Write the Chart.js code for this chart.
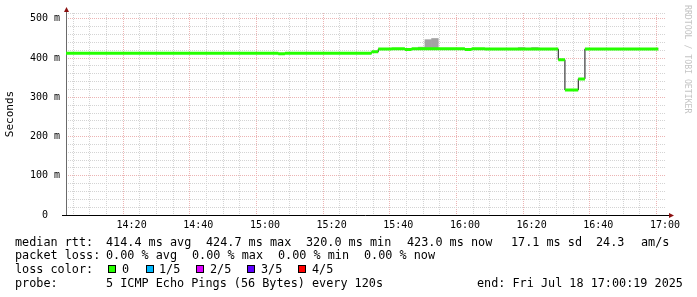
<!DOCTYPE html>
<html>
<head>
<meta charset="utf-8">
<title>smokeping rtt</title>
<script src="https://cdn.jsdelivr.net/npm/chart.js@4/dist/chart.umd.min.js"></script>
<style>
  html, body { margin: 0; padding: 0; background: #fff; }
  #wrap { position: relative; width: 697px; height: 297px; overflow: hidden; }
  #rtt { position: absolute; left: 0; top: 0; }
  .t { position: absolute; font-family: "DejaVu Sans Mono", monospace; font-size: 11.8px; line-height: 14px; color: #000; white-space: pre; }
  .box { position: absolute; width: 6px; height: 6px; border: 1px solid #000; }
  #mark { position: absolute; left: 683px; top: 5px; writing-mode: vertical-rl; font-family: "DejaVu Sans Mono", monospace; font-size: 8.2px; line-height: 10px; color: #c4c4c4; white-space: pre; }
</style>
</head>
<body>
<div id="wrap">
  <canvas id="rtt" width="697" height="297"></canvas>
  <div id="mark">RRDTOOL / TOBI OETIKER</div>

  <div class="t" style="left:15px;top:235px">median rtt:</div>
  <div class="t" style="left:106px;top:235px">414.4 ms avg</div>
  <div class="t" style="left:206px;top:235px">424.7 ms max</div>
  <div class="t" style="left:306px;top:235px">320.0 ms min</div>
  <div class="t" style="left:407px;top:235px">423.0 ms now</div>
  <div class="t" style="left:511px;top:235px">17.1 ms sd</div>
  <div class="t" style="left:596px;top:235px">24.3</div>
  <div class="t" style="left:641px;top:235px">am/s</div>

  <div class="t" style="left:15px;top:248px">packet loss:</div>
  <div class="t" style="left:106px;top:248px">0.00 % avg</div>
  <div class="t" style="left:192px;top:248px">0.00 % max</div>
  <div class="t" style="left:278px;top:248px">0.00 % min</div>
  <div class="t" style="left:364px;top:248px">0.00 % now</div>

  <div class="t" style="left:15px;top:262px">loss color:</div>
  <div class="box" style="left:108px;top:265px;background:#26ff00"></div>
  <div class="t" style="left:122px;top:262px">0</div>
  <div class="box" style="left:146px;top:265px;background:#00b8ff"></div>
  <div class="t" style="left:159px;top:262px">1/5</div>
  <div class="box" style="left:196px;top:265px;background:#dd00ff"></div>
  <div class="t" style="left:210px;top:262px">2/5</div>
  <div class="box" style="left:247px;top:265px;background:#5e00ff"></div>
  <div class="t" style="left:261px;top:262px">3/5</div>
  <div class="box" style="left:298px;top:265px;background:#ff0000"></div>
  <div class="t" style="left:312px;top:262px">4/5</div>

  <div class="t" style="left:15px;top:276px">probe:</div>
  <div class="t" style="left:106px;top:276px">5 ICMP Echo Pings (56 Bytes) every 120s</div>
  <div class="t" style="left:477px;top:276px">end: Fri Jul 18 17:00:19 2025</div>
</div>

<script>
// time is minutes after 14:00, graph runs 14:00:19 .. 17:00:19
const tStart = 0.32;
const tEnd = 180.32;

// median rtt (ms), value holds from stepStart[i] until stepStart[i+1]
const stepStart = [0.32, 64, 66, 92, 94, 98, 102, 104, 120, 122, 126, 148, 150, 154, 156, 178];
const medianMs  = [412.6, 411.4, 412.6, 416, 423, 424, 422, 424, 422, 424, 423, 396, 319, 347, 423.5, 423.5];

// smoke (ping spread) where it shows above the median
const smokeAt   = [107, 109, 111, 137, 141];
const smokeLow  = [424, 424, 424, 423, 423];
const smokeHigh = [428, 447, 450, 427, 427];

const yLabels = ['0  ', '100 m', '200 m', '300 m', '400 m', '500 m'];
const timeLabels = ['14:20', '14:40', '15:00', '15:20', '15:40', '16:00', '16:20', '16:40', '17:00'];

const minorGrid = '#d4d4d4';
const majorGrid = '#ecb4b4';
const lossGreen = '#26ff00';

// green median: flat pieces only, no risers
const greenPts = [];
for (let i = 0; i < stepStart.length - 1; i++) {
  greenPts.push({ x: stepStart[i], y: medianMs[i] });
  greenPts.push({ x: stepStart[i + 1], y: medianMs[i] });
  greenPts.push({ x: stepStart[i + 1], y: null });
}

// axis lines + little red arrows like rrdtool
const axisArrows = {
  id: 'axisArrows',
  beforeDatasetsDraw(chart) {
    const { ctx, chartArea: a } = chart;
    ctx.save();
    ctx.lineWidth = 1;
    ctx.strokeStyle = '#6a6a6a';
    ctx.beginPath();
    ctx.moveTo(a.left + 0.5, a.bottom);
    ctx.lineTo(a.left + 0.5, a.top - 1);
    ctx.stroke();
    ctx.strokeStyle = '#000';
    ctx.beginPath();
    ctx.moveTo(a.left - 4, a.bottom + 0.5);
    ctx.lineTo(a.right + 3, a.bottom + 0.5);
    ctx.stroke();
    ctx.fillStyle = '#8b1010';
    ctx.beginPath();
    ctx.moveTo(a.left + 0.5, a.top - 6);
    ctx.lineTo(a.left + 3, a.top - 1);
    ctx.lineTo(a.left - 2, a.top - 1);
    ctx.closePath();
    ctx.fill();
    ctx.beginPath();
    ctx.moveTo(a.right + 8, a.bottom + 0.5);
    ctx.lineTo(a.right + 3, a.bottom - 2);
    ctx.lineTo(a.right + 3, a.bottom + 3);
    ctx.closePath();
    ctx.fill();
    ctx.restore();
  }
};

new Chart(document.getElementById('rtt'), {
  type: 'line',
  data: {
    datasets: [
      {
        type: 'bar',
        data: smokeAt.map((t, i) => ({ x: t, y: [smokeLow[i], smokeHigh[i]] })),
        backgroundColor: '#a3a3a3',
        borderWidth: 0,
        barPercentage: 1,
        categoryPercentage: 1,
        order: 3
      },
      {
        data: stepStart.map((t, i) => ({ x: t, y: medianMs[i] })),
        stepped: true,
        borderColor: '#111',
        borderWidth: 1,
        pointRadius: 0,
        order: 2
      },
      {
        data: greenPts,
        borderColor: lossGreen,
        borderWidth: 3,
        borderCapStyle: 'butt',
        pointRadius: 0,
        spanGaps: false,
        order: 1
      }
    ]
  },
  options: {
    responsive: false,
    animation: false,
    layout: { padding: { left: 0, right: 31, top: 13, bottom: 62 } },
    plugins: {
      legend: { display: false },
      tooltip: { enabled: false }
    },
    scales: {
      x: {
        type: 'linear',
        min: tStart,
        max: tEnd,
        offset: false,
        afterBuildTicks: (scale) => {
          const ticks = [];
          for (let m = 5; m <= 180; m += 5) ticks.push({ value: m });
          scale.ticks = ticks;
        },
        afterFit: (scale) => { scale.height = 20; },
        ticks: {
          autoSkip: false,
          maxRotation: 0,
          padding: 4,
          color: '#000',
          font: { family: 'DejaVu Sans Mono', size: 10 },
          callback: (v) => (v % 20 === 0 ? timeLabels[v / 20 - 1] : '')
        },
        grid: {
          drawTicks: false,
          lineWidth: 1,
          color: (c) => (c.tick && c.tick.value % 20 === 0 ? majorGrid : minorGrid)
        },
        border: { display: false, dash: [1, 1] }
      },
      y: {
        min: 0,
        max: 515,
        afterBuildTicks: (scale) => {
          const ticks = [];
          for (let v = 0; v <= 500; v += 20) ticks.push({ value: v });
          ticks.push({ value: 515 });
          scale.ticks = ticks;
        },
        afterFit: (scale) => { scale.width = 66; },
        ticks: {
          autoSkip: false,
          padding: 6,
          color: '#000',
          font: { family: 'DejaVu Sans Mono', size: 10 },
          callback: (v) => (v % 100 === 0 ? yLabels[v / 100] : '')
        },
        grid: {
          drawTicks: false,
          lineWidth: 1,
          color: (c) => (c.tick && c.tick.value % 100 === 0 && c.tick.value > 0 ? majorGrid : minorGrid)
        },
        border: { display: false, dash: [1, 1] },
        title: {
          display: true,
          text: 'Seconds',
          color: '#000',
          padding: { top: 4, bottom: 0 },
          font: { family: 'DejaVu Sans Mono', size: 11 }
        }
      }
    }
  },
  plugins: [axisArrows]
});
</script>
</body>
</html>
